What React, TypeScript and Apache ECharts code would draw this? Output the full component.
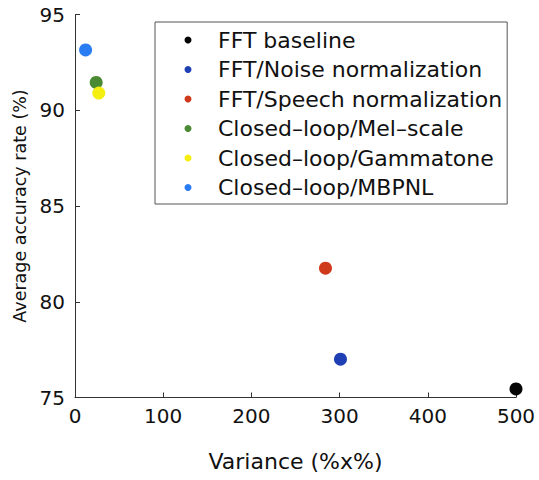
import React, { useEffect, useRef } from "react";
import * as echarts from "echarts";

const seriesNames = [
  "FFT baseline",
  "FFT/Noise normalization",
  "FFT/Speech normalization",
  "Closed\u2013loop/Mel\u2013scale",
  "Closed\u2013loop/Gammatone",
  "Closed\u2013loop/MBPNL",
];
const varianceValues = [500, 301, 284, 24, 27, 12];
const accuracyValues = [75.45, 77.0, 81.75, 91.45, 90.9, 93.15];
const seriesColors = ["#050505", "#1f3fb5", "#cf3a1c", "#4a8a32", "#f4ef10", "#2a7cf2"];
const xTicks = [0, 100, 200, 300, 400, 500];
const yTicks = [75, 80, 85, 90, 95];

export default function App() {
  const ref = useRef<HTMLDivElement>(null);
  useEffect(() => {
    if (!ref.current) return;
    const chart = echarts.init(ref.current, undefined, { renderer: "svg" });
    const wide = "DejaVu Sans, Verdana, sans-serif";
    chart.setOption({
      animation: false,
      backgroundColor: "#ffffff",
      grid: { left: 75, right: 23, top: 14.5, bottom: 82.5, containLabel: false },
      xAxis: {
        type: "value",
        min: xTicks[0],
        max: xTicks[xTicks.length - 1],
        interval: 100,
        name: "Variance (%x%)",
        nameLocation: "middle",
        nameGap: 53,
        nameTextStyle: { fontSize: 22, color: "#111", fontFamily: wide },
        axisLine: { lineStyle: { color: "#333", width: 1 } },
        axisTick: { inside: true, length: 5, lineStyle: { color: "#333" } },
        axisLabel: { fontSize: 20, color: "#111", fontFamily: wide, margin: 8 },
        splitLine: { show: false },
      },
      yAxis: {
        type: "value",
        min: yTicks[0],
        max: yTicks[yTicks.length - 1],
        interval: 5,
        name: "Average accuracy rate (%)",
        nameLocation: "middle",
        nameGap: 38,
        nameTextStyle: { fontSize: 17.5, color: "#111", fontFamily: wide },
        axisLine: { show: true, lineStyle: { color: "#333", width: 1 } },
        axisTick: { show: true, inside: true, length: 5, lineStyle: { color: "#333" } },
        axisLabel: { fontSize: 20, color: "#111", fontFamily: wide, margin: 10 },
        splitLine: { show: false },
      },
      legend: {
        orient: "vertical",
        left: 155,
        top: 22,
        icon: "circle",
        itemWidth: 7,
        itemHeight: 7,
        itemGap: 7.5,
        padding: [7, 5, 5.5, 29.5],
        borderColor: "#555",
        borderWidth: 1,
        backgroundColor: "#fff",
        textStyle: {
          fontSize: 22,
          lineHeight: 22,
          color: "#111",
          fontFamily: wide,
          padding: [0, 0, 0, 21.5],
        },
        data: seriesNames,
      },
      series: seriesNames.map((name, i) => ({
        name,
        type: "scatter",
        symbol: "circle",
        symbolSize: 13,
        itemStyle: { color: seriesColors[i], opacity: 1 },
        data: [[varianceValues[i], accuracyValues[i]]],
      })),
    });
    return () => chart.dispose();
  }, []);
  return (
    <div
      ref={ref}
      style={{ position: "fixed", left: 0, top: 0, width: 539, height: 480 }}
    />
  );
}
